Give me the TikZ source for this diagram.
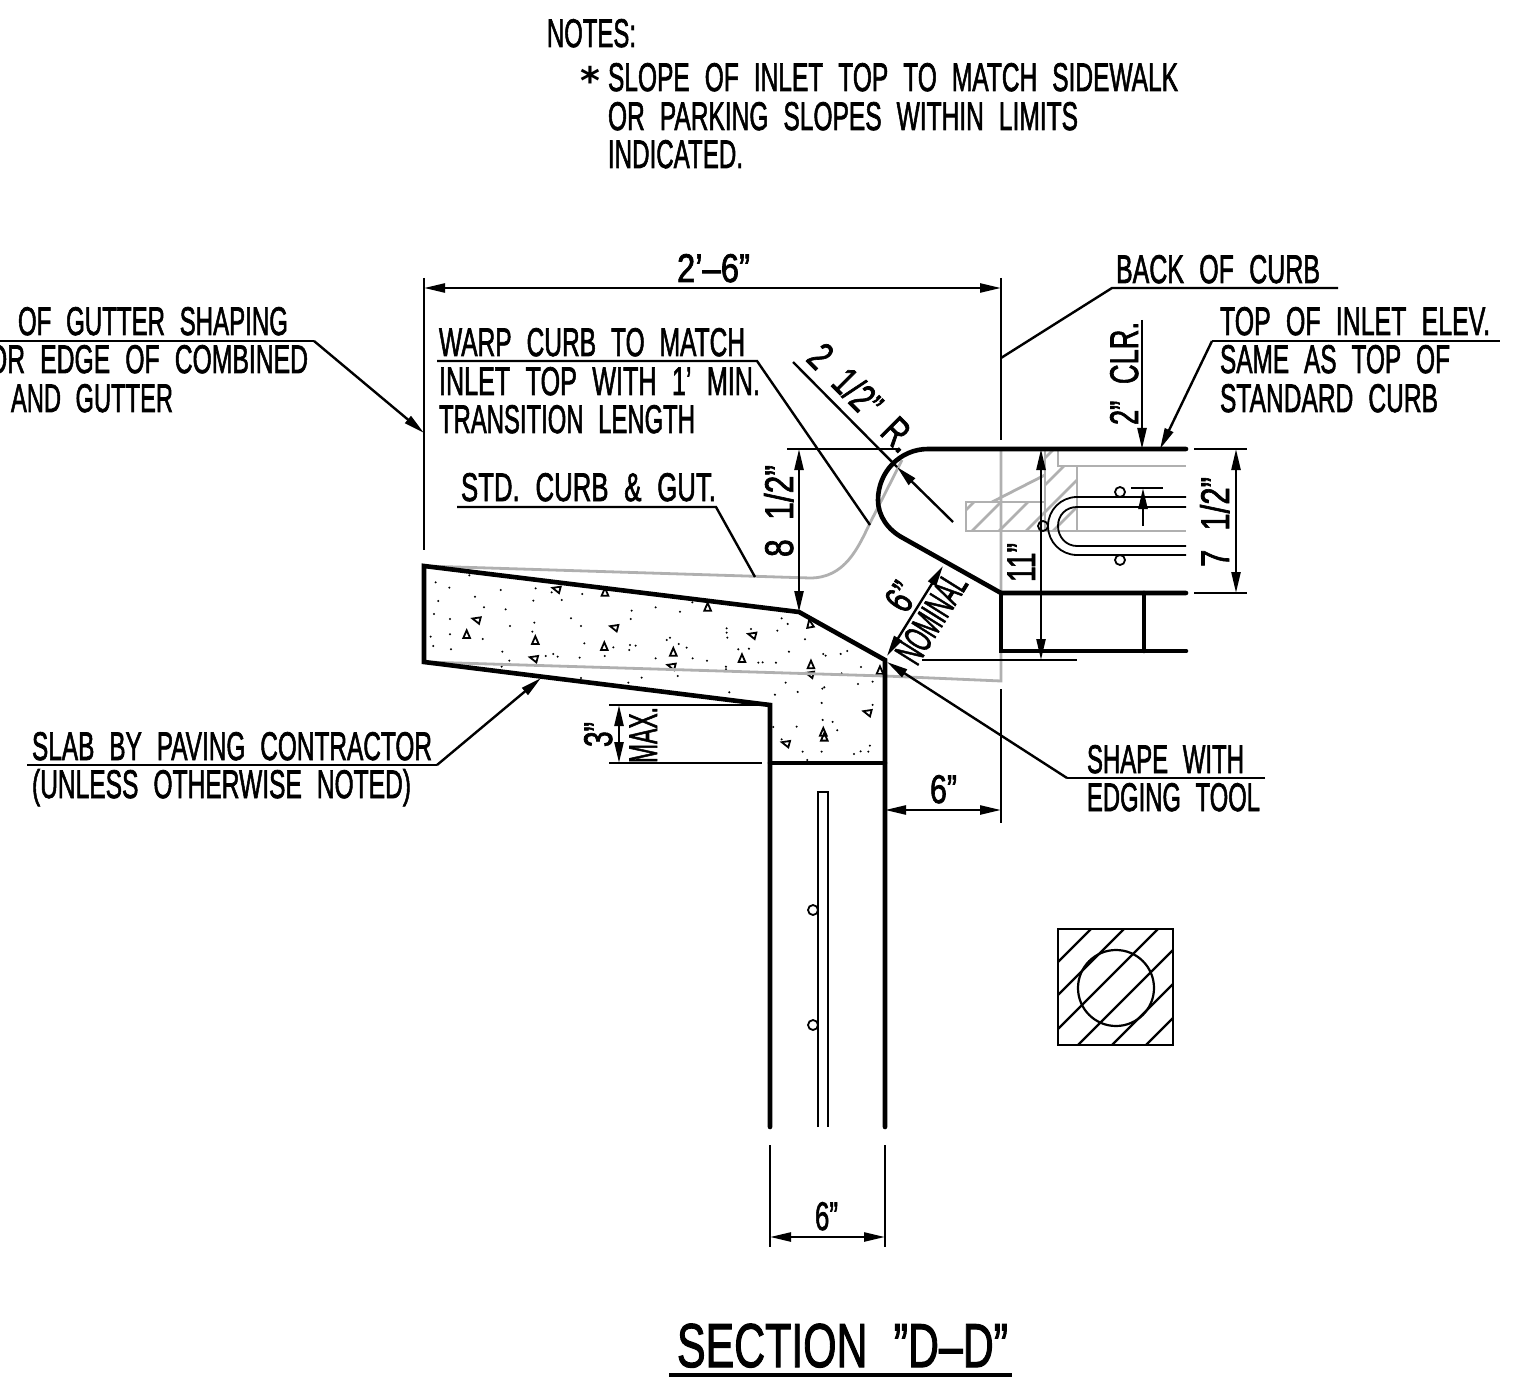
\documentclass[tikz,border=0pt]{standalone}
\usepackage{graphicx}
\usepackage{fontspec}
\setmainfont[WordSpace=2.2,FakeBold=2]{Liberation Sans}
\newfontfamily\starfont{DejaVu Sans}
\usetikzlibrary{arrows.meta}
\definecolor{grayline}{HTML}{B0B0B0}
\newcommand\lb[5]{\node[txt] (#1) at (#2,#3) {\resizebox{#4pt}{\height}{#5}};}
\newcommand\rb[6]{\node[txt,rotate=#4] (#1) at (#2,#3) {\resizebox{#5pt}{\height}{#6}};}
\tikzset{
  txt/.style={anchor=base west,inner sep=0pt,outer sep=0pt,font=\fontsize{40}{40}\selectfont},
  thin line/.style={line width=2.4pt,black},
  thick line/.style={line width=4.6pt,black,line join=miter,line cap=round},
  gray line/.style={line width=2.8pt,grayline},
  bar line/.style={line width=1.8pt,black},
  tip/.tip={Triangle[length=21pt,width=9pt]},
  dimboth/.style={thin line,{tip}-{tip}},
  lead/.style={thin line,-{tip}},
}
\begin{document}
\begin{tikzpicture}[x=1pt,y=-1pt]
\useasboundingbox (0,0) rectangle (1521,1396);
\fill[white] (0,0) rectangle (1521,1396);

% concrete aggregate
\begin{scope}[shift={(410,550)},x=0.3333pt,y=-0.3333pt]
\foreach \x/\y in {77/97,118/113,178/76,85/153,72/192,120/207,62/260,120/253,70/288,123/298,195/140,222/172,272/120,287/178,218/267,300/228,277/305,298/332,225/342,275/350,377/115,370/152,373/218,367/245,425/127,455/150,517/132,483/205,513/228,523/280,407/318,430/312,443/320,509/323,584/318,610/292,660/285,677/287,658/300,665/182,662/207,737/172,810/185,847/157,770/270,780/263,806/282,830/293,737/325,848/325,891/332,876/360,948/350,948/358,950/235,950/248,952/263,1023/237,1102/242,1115/205,1133/222,1185/268,1137/305,985/298,1017/296,1045/338,1058/337,1098/338,1240/312,1247/317,1292/312,1312/303,1353/351,1295/370,680/355,695/383,803/378,655/398,513/384,958/427,1095/434,1127/398,1163/426,1237/416,1243/412,1235/459,1344/402,1388/395,1388/465,1238/510,1268/516,1282/541,1160/530,1090/531,1115/568,1178/605,1235/605,1332/612,1352/604,1375/605,1380/587,1192/630}
  \fill (\x,\y) circle (3.4);
\foreach \x/\y/\r in {440/117/75,585/127/0,893/172/0,1200/222/10,200/209/75,170/254/0,376/272/0,372/325/75,613/232/75,583/290/0,790/307/0,785/348/75,1027/255/75,996/326/0,1203/345/0,1200/372/75,1410/362/0,1373/487/75,1240/547/0,1243/562/0,1128/580/75}
  \draw[line width=1.8pt,shift={(\x,\y)},rotate=\r] (0,-13)--(10,10)--(-10,10)--cycle;
\end{scope}

% gray existing curb
\draw[gray line] (424,566)--(810,578) .. controls (845,578) and (858,548) .. (870,523) -- (902,460);
\draw[gray line] (424,662)--(885,676)--(1001,681)--(1001,449);
\draw[gray line] (966,502) rectangle (1045,531);
\draw[gray line] (1045,449)--(1045,502);
\draw[gray line] (992,502)--(1045,475);
\draw[gray line] (1058,449)--(1058,466)--(1186,466);
\draw[gray line] (1077,466)--(1077,531);
\draw[gray line] (966,531)--(1186,531);
\begin{scope}
\clip (1045,449)--(1058,449)--(1058,466)--(1077,466)--(1077,531)--(966,531)--(966,502)--(1045,502)--cycle;
\foreach \c in {1476,1503,1530,1557,1584}
  \draw[gray line] (\c-430,430)--(\c-550,550);
\end{scope}

% rebar in curb
\draw[bar line] (1186,497)--(1077,497) .. controls (1061,497) and (1048,510) .. (1048,526) .. controls (1048,542) and (1061,555) .. (1077,555)--(1186,555);
\draw[bar line] (1186,507)--(1077,507) .. controls (1066,507) and (1058,515) .. (1058,526) .. controls (1058,537) and (1066,546) .. (1077,546)--(1186,546);
\draw[bar line,fill=white] (1120,492) circle (5);
\draw[bar line,fill=white] (1120,560) circle (5);
\draw[bar line] (1043,526) circle (5);

% outlines
\draw[thick line] (1186,449)--(928,449) .. controls (900,449) and (878,472) .. (878,500) .. controls (878,516) and (888,530) .. (903,538) -- (1001,593) -- (1186,593);
\draw[thick line] (1001,593)--(1001,651)--(1186,651);
\draw[thick line] (1144,593)--(1144,651);
\draw[thick line] (885,1127)--(885,660)--(799,612)--(424,566)--(424,662)--(770,705)--(770,1127);
\draw[thick line] (770,763)--(885,763);

% stem bar
\draw[bar line] (818,1127)--(818,792)--(828,792)--(828,1127);
\draw[bar line,fill=white] (813,910) circle (5);
\draw[bar line,fill=white] (813,1025) circle (5);

% extension and dimension lines
\draw[thin line] (424,278)--(424,550);
\draw[thin line] (1001,278)--(1001,440);
\draw[thin line] (1001,689)--(1001,823);
\draw[dimboth] (424,288)--(1001,288);
\draw[thin line] (1001,358)--(1112,288)--(1338,288);
\draw[thin line] (1212,341)--(1500,341);
\draw[lead] (1212,341)--(1160,449);
\draw[thin line] (0,341)--(314,341);
\draw[lead] (314,341)--(424,433);
\draw[thin line] (437,361)--(757,361)--(870,525);
\draw[thin line] (457,507)--(716,507)--(755,577);
\draw[thin line] (793,362)--(897,467);
\draw[lead] (953,522)--(897,467);
\draw[lead] (1142,320)--(1142,449);
\draw[thin line] (787,449)--(898,449);
\draw[dimboth] (799,449)--(799,612);
\draw[dimboth] (1041,449)--(1041,660);
\draw[thin line] (922,660)--(1077,660);
\draw[thin line] (1194,449)--(1247,449);
\draw[thin line] (1194,593)--(1247,593);
\draw[dimboth] (1236,449)--(1236,593);
\draw[dimboth] (887,656)--(943,566);
\draw[thin line] (1131,488)--(1163,488);
\draw[lead] (1143,526)--(1143,488);
\draw[thin line] (1265,778)--(1067,778);
\draw[lead] (1067,778)--(887,662);
\draw[thin line] (27,765)--(437,765);
\draw[lead] (437,765)--(541,678);
\draw[thin line] (609,705)--(770,705);
\draw[thin line] (609,763)--(762,763);
\draw[dimboth] (619,705)--(619,763);
\draw[dimboth] (885,810)--(1001,810);
\draw[thin line] (770,1145)--(770,1247);
\draw[thin line] (885,1145)--(885,1247);
\draw[dimboth] (770,1237)--(885,1237);
\draw[line width=3.5pt] (669,1375)--(1012,1375);

% hatched square
\draw[line width=2.6pt] (1058,929) rectangle (1173,1045);
\draw[line width=2.2pt] (1116,988) circle (38);
\begin{scope}
\clip (1058,929) rectangle (1173,1045);
\foreach \c in {2020,2053,2087,2123,2157,2191}
  \draw[line width=2.2pt] (\c-900,900)--(\c-1100,1100);
\end{scope}

% texts
\lb{notes}{547}{47}{89}{NOTES:}
\node[inner sep=0pt,anchor=base,font=\fontsize{38}{38}\selectfont\starfont\bfseries] (star) at (590,95) {*};
\lb{n1}{608}{91}{570}{SLOPE OF INLET TOP TO MATCH SIDEWALK}
\lb{n2}{608}{130}{470}{OR PARKING SLOPES WITHIN LIMITS}
\lb{n3}{608}{168}{135}{INDICATED.}
\lb{ov}{677}{282}{73}{2’–6”}
\lb{boc}{1116}{283}{204}{BACK OF CURB}
\lb{ti1}{1220}{335}{270}{TOP OF INLET ELEV.}
\lb{ti2}{1220}{373}{230}{SAME AS TOP OF}
\lb{ti3}{1220}{412}{218}{STANDARD CURB}
\lb{eg1}{18}{335}{270}{OF GUTTER SHAPING}
\lb{eg2}{-12}{373}{320}{OR EDGE OF COMBINED}
\lb{eg3}{11}{412}{162}{AND GUTTER}
\lb{wc1}{439}{356}{306}{WARP CURB TO MATCH}
\lb{wc2}{439}{395}{321}{INLET TOP WITH 1’ MIN.}
\lb{wc3}{439}{433}{256}{TRANSITION LENGTH}
\lb{std}{461}{501}{255}{STD. CURB \& GUT.}
\lb{sl1}{32}{760}{400}{SLAB BY PAVING CONTRACTOR}
\lb{sl2}{32}{798}{379}{(UNLESS OTHERWISE NOTED)}
\lb{sh1}{1087}{773}{157}{SHAPE WITH}
\lb{sh2}{1087}{811}{173}{EDGING TOOL}
\lb{six1}{930}{803}{27}{6”}
\lb{six2}{815}{1230}{23}{6”}
\node[txt,font=\fontsize{62}{62}\selectfont] (title) at (677,1367) {\resizebox{331pt}{\height}{SECTION ”D–D”}};
\rb{clr}{1138}{425}{90}{103}{2” CLR.}
\rb{sev}{1229}{567}{90}{90}{7 1/2”}
\rb{ele}{1035}{582}{90}{39}{11”}
\rb{eig}{793}{557}{90}{92}{8 1/2”}
\rb{thr}{612}{747}{90}{25}{3”}
\rb{max}{657}{763}{90}{56}{MAX.}
\rb{sixn}{906}{615}{58}{26}{6”}
\rb{nom}{917}{667}{58}{98}{NOMINAL}
\rb{rad}{805}{360}{-45}{134}{2 1/2” R.}
\end{tikzpicture}
\end{document}
